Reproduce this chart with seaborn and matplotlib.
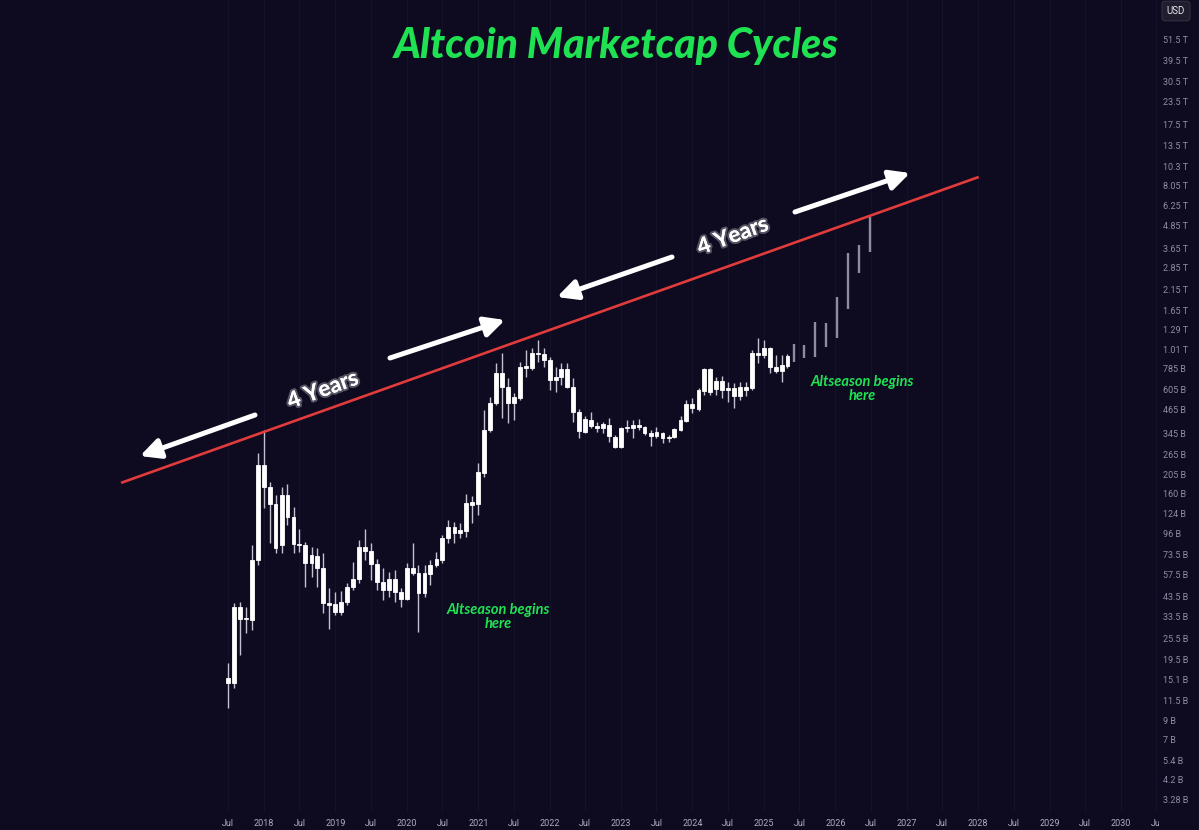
import numpy as np
import pandas as pd
import matplotlib
matplotlib.use("Agg")
import matplotlib.pyplot as plt
import matplotlib.dates as mdates
import matplotlib.patheffects as pe
from matplotlib.patches import Rectangle
from matplotlib.ticker import NullLocator
import seaborn as sns

# monthly candles, values in billions USD
months = pd.date_range("2017-07-01", periods=95, freq="MS")
open_ = [14.5, 14.5, 37.9, 32.5, 32.1, 69.0, 231, 175, 141, 83.5, 158, 119,
         83.5, 83.5, 66.4, 72.6, 62.2, 38.9, 39.4, 35.6, 40.4, 48.9, 54.2, 81.4,
         77.3, 65.5, 52.2, 47.1, 54.2, 45.9, 42.0, 62.2, 58.5, 45.3, 57.7, 64.7,
         69.0, 91.2, 105, 97.1, 99.6, 139, 141, 208, 360, 508, 745, 623,
         508, 542, 814, 794, 960, 948, 878, 681, 708, 783, 623, 453,
         351, 409, 379, 369, 384, 330, 290, 369, 369, 384, 374, 347,
         334, 347, 325, 330, 360, 404, 501, 471, 592, 783, 608, 673,
         600, 615, 556, 623, 615, 960, 936, 1023, 804, 763, 814]
high = [18.6, 39.9, 40.4, 37.9, 83.5, 269, 360, 186, 158, 175, 181, 135,
        102, 86.7, 81.4, 80.3, 75.4, 48.3, 45.9, 46.5, 51.5, 67.3, 88.9, 102,
        85.6, 69.9, 62.2, 59.2, 60.7, 48.3, 66.4, 85.6, 64.7, 64.7, 69.0, 76.3,
        94.8, 115, 112, 110, 160, 156, 237, 465, 549, 845, 960, 699,
        577, 856, 997, 1023, 1133, 1023, 912, 804, 845, 845, 699, 471,
        430, 453, 398, 398, 420, 338, 374, 409, 409, 414, 379, 360,
        374, 351, 338, 369, 430, 528, 542, 615, 794, 794, 708, 717,
        664, 656, 664, 664, 997, 1162, 1133, 1036, 936, 936, 948]
low = [10.5, 13.5, 20.6, 27.3, 28.3, 64.7, 134, 85.6, 75.4, 75.4, 108, 75.4,
       76.3, 48.9, 55.6, 48.9, 35.2, 28.7, 34.3, 34.3, 38.9, 47.1, 51.5, 69.0,
       53.5, 47.1, 41.5, 43.1, 40.4, 37.9, 41.5, 57.0, 27.6, 43.1, 50.2, 63.1,
       66.4, 85.6, 85.6, 91.2, 92.4, 111, 122, 198, 351, 495, 420, 394,
       409, 528, 708, 773, 856, 804, 600, 584, 639, 615, 398, 325,
       347, 369, 351, 347, 309, 286, 286, 351, 325, 360, 338, 294,
       325, 305, 309, 325, 355, 398, 447, 459, 563, 563, 563, 542,
       515, 477, 528, 556, 600, 845, 901, 745, 745, 664, 794]
close = [15.4, 37.9, 32.5, 32.9, 69.0, 231, 175, 141, 80.3, 158, 119, 84.6,
         84.6, 66.4, 73.5, 62.2, 39.9, 39.9, 35.6, 40.4, 48.9, 54.2, 81.4, 77.3,
         65.5, 52.2, 47.1, 54.2, 45.9, 42.0, 62.2, 58.5, 45.3, 58.5, 64.7, 69.9,
         91.2, 105, 97.1, 101, 143, 145, 211, 360, 508, 745, 623, 508,
         549, 804, 794, 960, 948, 878, 681, 708, 783, 623, 453, 355,
         414, 379, 369, 389, 334, 290, 369, 374, 384, 374, 347, 334,
         351, 325, 330, 365, 409, 501, 477, 600, 783, 584, 673, 600,
         615, 556, 623, 600, 960, 936, 1023, 804, 763, 824, 924]

# projected range bars (grey)
proj_dates = pd.date_range("2025-06-01", periods=8, freq="56D")
proj_high = [1077, 1063, 1424, 1405, 1958, 3425, 3791, 5415]
proj_low = [856, 901, 912, 1036, 1162, 1680, 2660, 3470]

# price axis
y_ticks = [3.28, 4.2, 5.4, 7, 9, 11.5, 15.1, 19.5, 25.5, 33.5, 43.5, 57.5, 73.5,
           96, 124, 160, 205, 265, 345, 465, 605, 785, 1010, 1290, 1650, 2150,
           2850, 3650, 4850, 6250, 8050, 10300, 13500, 17500, 23500, 30500,
           39500, 51500]
y_labels = ["3.28 B", "4.2 B", "5.4 B", "7 B", "9 B", "11.5 B", "15.1 B", "19.5 B",
            "25.5 B", "33.5 B", "43.5 B", "57.5 B", "73.5 B", "96 B", "124 B",
            "160 B", "205 B", "265 B", "345 B", "465 B", "605 B", "785 B",
            "1.01 T", "1.29 T", "1.65 T", "2.15 T", "2.85 T", "3.65 T", "4.85 T",
            "6.25 T", "8.05 T", "10.3 T", "13.5 T", "17.5 T", "23.5 T", "30.5 T",
            "39.5 T", "51.5 T"]
years = list(range(2018, 2031))

BG = "#0e0b21"
GREEN = "#1fe252"

sns.set_theme(style="dark", rc={"axes.facecolor": BG, "figure.facecolor": BG})
plt.rcParams["font.family"] = ["Lato", "DejaVu Sans"]

W, H = 1199, 830
fig = plt.figure(figsize=(W / 100, H / 100), dpi=100)
ax = fig.add_axes([0, 18 / H, 1160 / W, 812 / H])
ax.set_facecolor(BG)
ax.set_yscale("log")

x = mdates.date2num(months.to_pydatetime())
o = np.array(open_)
c = np.array(close)

# faint time grid
jul_x = mdates.date2num([pd.Timestamp(f"{y}-07-01") for y in range(2017, 2031)])
yr_x = mdates.date2num([pd.Timestamp(f"{y}-01-01") for y in years])
for gx in np.concatenate([jul_x, yr_x]):
    ax.axvline(gx, color="#14112a", lw=0.8, zorder=0)

ax.vlines(x, low, high, color="#c2c1cf", lw=1.0, zorder=2)
ax.bar(x, np.abs(c - o), bottom=np.minimum(o, c), width=20, color="white",
       edgecolor="white", linewidth=0.6, zorder=3)

px = mdates.date2num(proj_dates.to_pydatetime())
ax.vlines(px, proj_low, proj_high, color="#8e8ca2", lw=1.7, zorder=2)

# trend line
t0 = mdates.date2num(pd.Timestamp("2016-01-01"))
t1 = mdates.date2num(pd.Timestamp("2028-01-04"))
ax.plot([t0, t1], [184, 9010], color="#e23b3b", lw=1.9, zorder=4,
        solid_capstyle="butt")

ax.set_xticks(np.concatenate([jul_x, yr_x]))
ax.set_xticklabels(["Jul"] * len(jul_x) + [str(y) for y in years])
ax.yaxis.tick_right()
ax.set_yticks(y_ticks)
ax.set_yticklabels(y_labels)
ax.yaxis.set_minor_locator(NullLocator())
ax.xaxis.set_minor_locator(NullLocator())

base = mdates.date2num(pd.Timestamp("2018-01-01"))
ax.set_xlim(base - 1350, base + 4582)
ax.set_ylim(2.795, 85600)

ax.tick_params(axis="x", length=0, pad=5, labelsize=6.5, colors="#aeacbd")
ax.tick_params(axis="y", length=0, pad=2, labelsize=6.5, colors="#8f8ca5")
for lab in ax.get_xticklabels() + ax.get_yticklabels():
    lab.set_fontfamily(["Roboto", "DejaVu Sans"])
for s in ax.spines.values():
    s.set_visible(False)
ax.grid(False)

# the price pane hides the end of the last month label
fig.patches.append(Rectangle((1158.5 / W, 0), 41 / W, 17 / H, transform=fig.transFigure,
                             facecolor=BG, edgecolor="none", zorder=5))


def fp(xp, yp):
    return (xp, H - yp)


arrow = dict(arrowstyle="-|>,head_length=1.2,head_width=0.6", color="white",
             lw=3.6, mutation_scale=10, shrinkA=0, shrinkB=0)
for tail, head in [((255, 415), (140, 456)), ((390, 358), (505, 320)),
                   ((672, 257), (557, 297)), ((795, 212), (910, 173))]:
    ax.annotate("", xy=fp(*head), xytext=fp(*tail), xycoords="figure pixels",
                textcoords="figure pixels", arrowprops=arrow, zorder=6)

glow = [pe.withStroke(linewidth=3, foreground=(1, 1, 1, 0.3))]
for pos in [(323, 390), (733, 236)]:
    ax.annotate("4 Years", xy=fp(*pos), xycoords="figure pixels", ha="center",
                va="center", rotation=20, color="white", fontsize=16,
                fontweight="bold", path_effects=glow, zorder=6)

for pos in [(498, 617), (862, 389)]:
    ax.annotate("Altseason begins\nhere", xy=fp(*pos), xycoords="figure pixels",
                ha="center", va="center", color=GREEN, fontsize=10.5,
                fontweight="bold", fontstyle="italic", linespacing=1.05, zorder=6)

fig.text(616 / W, 1 - 46 / H, "Altcoin Marketcap Cycles", ha="center", va="center",
         color=GREEN, fontsize=29.5, fontweight="black", fontstyle="italic")

fig.text(1176 / W, 1 - 11 / H, "USD", ha="center", va="center", color="#e6e6ee",
         fontsize=7, family=["Roboto", "DejaVu Sans"],
         bbox=dict(boxstyle="round,pad=0.5,rounding_size=0.3", facecolor="#1f1d2e",
                   edgecolor="#3a3848", lw=0.6))

fig.savefig("out.png", dpi=100, facecolor=BG)
